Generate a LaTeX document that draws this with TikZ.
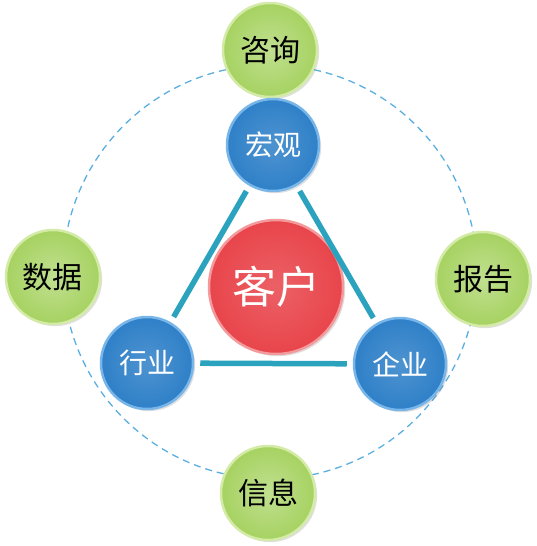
\documentclass[tikz,border=0pt]{standalone}
\usepackage{fontspec}
\newfontfamily\cjk{Noto Sans CJK SC}
\usetikzlibrary{shadows}
\definecolor{leaf}{HTML}{A6D261}
\definecolor{leafrim}{HTML}{D3EBA6}
\definecolor{sea}{HTML}{2F80C8}
\definecolor{searim}{HTML}{78B6EA}
\definecolor{rose}{HTML}{E8454B}
\definecolor{roserim}{HTML}{F39A9C}
\definecolor{teal}{HTML}{2BA3BF}
\definecolor{ring}{HTML}{5AAEE0}
\begin{document}
\begin{tikzpicture}[x=1pt, y=-1pt, thick,
    ball/.style={circle, inner sep=0pt, line width=2.5pt, drop shadow={opacity=0.25}},
    outer node/.style={ball, draw=leafrim, inner color=leaf!70!white, outer color=leaf,
                       minimum size=94pt, text=black, font=\cjk\fontsize{30}{30}\selectfont},
    main node/.style={ball, draw=searim, inner color=sea!85!white, outer color=sea,
                      minimum size=92pt, text=white, font=\cjk\fontsize{28}{28}\selectfont},
    core node/.style={ball, draw=roserim, inner color=rose!85!white, outer color=rose,
                      minimum size=134pt, text=white, font=\cjk\fontsize{44}{44}\selectfont},
    link/.style={teal, line width=5.5pt, shorten <=6pt, shorten >=6pt}]

  \useasboundingbox (0,0) rectangle (536,546);

  % dashed ring behind the outer nodes
  \draw[ring, dashed, line width=1.3pt, dash pattern=on 7pt off 5pt] (270,272) circle (207);

  \node[outer node] (zx) at (270,50)  {咨询};
  \node[outer node] (sj) at (53,277)  {数据};
  \node[outer node] (bg) at (483,279) {报告};
  \node[outer node] (xx) at (268,493) {信息};

  \node[main node] (hg) at (273,145) {宏观};
  \node[main node] (hy) at (147,363) {行业};
  \node[main node] (qy) at (400,364) {企业};

  \node[core node] (kh) at (276,287) {客户};

  \draw[link] (hy) -- (hg);
  \draw[link] (hg) -- (qy);
  \draw[link] (hy) -- (qy);
\end{tikzpicture}
\end{document}
